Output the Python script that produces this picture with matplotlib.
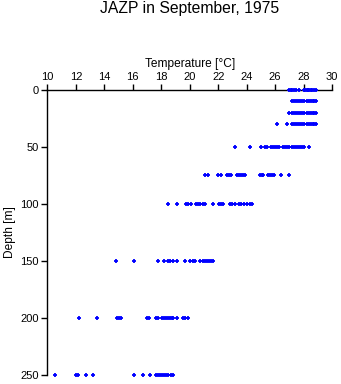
import matplotlib
matplotlib.use("Agg")
import matplotlib.pyplot as plt

plt.rcParams['font.family'] = ['Liberation Sans', 'DejaVu Sans']

# temperature readings (degC) per depth (m)
t0 = [27.0, 27.1, 27.2, 27.3, 27.45, 27.7, 28.0, 28.1, 28.2, 28.3, 28.4, 28.5, 28.6, 28.7, 28.84]
t10 = [27.15, 27.3, 27.45, 27.6, 27.75, 27.9, 28.05, 28.2, 28.35, 28.5, 28.65, 28.75, 28.84]
t20 = [27.0, 27.15, 27.3, 27.45, 27.6, 27.75, 27.9, 28.05, 28.2, 28.35, 28.5, 28.65, 28.75, 28.84]
t30 = [26.1, 26.8, 27.15, 27.3, 27.45, 27.6, 27.75, 27.9, 28.05, 28.2, 28.35, 28.5, 28.65, 28.75, 28.84]
t50 = [23.2, 24.2, 25.0, 25.3, 25.45, 25.7, 25.85, 26.0, 26.15, 26.3, 26.55, 26.7, 26.85,
       27.0, 27.15, 27.3, 27.45, 27.6, 27.75, 27.9, 28.0, 28.35]
t75 = [21.05, 21.3, 22.0, 22.2, 22.6, 22.75, 22.9, 23.3, 23.45, 23.6, 23.75, 23.9,
       24.9, 25.05, 25.15, 25.5, 25.65, 25.8, 25.95, 26.4, 27.0]
t100 = [18.5, 19.1, 19.75, 19.9, 20.1, 20.45, 20.6, 20.75, 20.9, 21.05, 21.65,
        22.05, 22.2, 22.35, 22.8, 22.95, 23.2, 23.45, 23.6, 23.8, 24.05, 24.2, 24.4]
t150 = [14.8, 16.1, 17.8, 18.2, 18.45, 18.6, 18.8, 19.1, 19.65, 20.05, 20.2, 20.4,
        20.75, 20.9, 21.05, 21.2, 21.35, 21.5, 21.65]
t200 = [12.2, 13.5, 14.9, 15.05, 15.15, 17.0, 17.15, 17.6, 17.75, 18.05, 18.2, 18.3,
        18.45, 18.6, 18.75, 18.85, 19.1, 19.55, 19.7, 19.9]
t250 = [10.5, 12.0, 12.15, 12.7, 13.2, 16.1, 16.7, 17.2, 17.6, 17.75, 17.9, 18.05,
        18.2, 18.35, 18.5, 18.65, 18.8]

depths = [0, 10, 20, 30, 50, 75, 100, 150, 200, 250]
temps = [t0, t10, t20, t30, t50, t75, t100, t150, t200, t250]

fig = plt.figure(figsize=(3.41, 3.84), dpi=100)
ax = fig.add_axes([0.139, 0.0234, 0.835, 0.7426])

for d, ts in zip(depths, temps):
    ax.plot(ts, [d] * len(ts), linestyle='none', marker='+', markersize=3.0,
            markeredgewidth=1.3, color='#0000ff', clip_on=False, zorder=5)

ax.set_xlim(10, 30)
ax.set_ylim(250, 0)
ax.set_xticks(range(10, 31, 2))
ax.set_yticks([0, 50, 100, 150, 200, 250])
ax.xaxis.tick_top()
ax.xaxis.set_label_position('top')
ax.set_xlabel('Temperature [°C]', fontsize=8.6, labelpad=3)
ax.set_ylabel('Depth [m]', fontsize=8.6, labelpad=3)
ax.tick_params(axis='both', labelsize=8, length=4, width=1, direction='out', pad=2)
ax.spines['right'].set_visible(False)
ax.spines['bottom'].set_visible(False)
for s in ('top', 'left'):
    ax.spines[s].set_linewidth(1)

fig.text(0.139 + 0.835 / 2, 1 - 9 / 384, 'JAZP in September, 1975',
         fontsize=11.3, ha='center', va='center')

fig.savefig('out.png', dpi=100)
